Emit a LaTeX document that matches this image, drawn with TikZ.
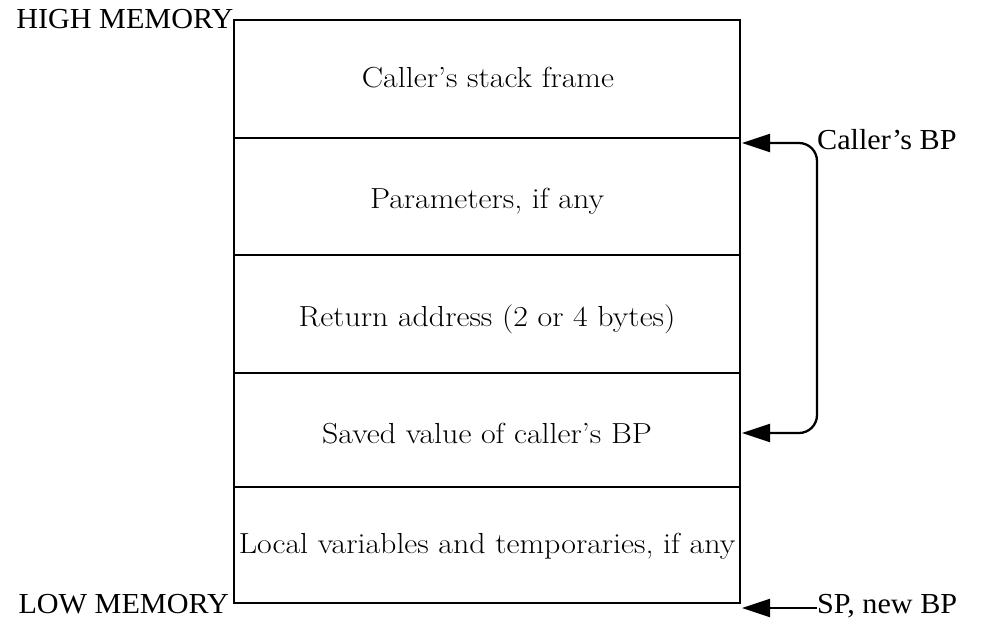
\documentclass[tikz,border=0pt]{standalone}
\usepackage{fontspec}
\newfontfamily\labelfont{Liberation Serif}
\usetikzlibrary{arrows.meta}

\begin{document}
\begin{tikzpicture}[x=1pt,y=-1pt,
  frame/.style={line width=1.9pt},
  pointer/.style={line width=2.3pt, -{Triangle[length=28pt,width=18pt]}},
  twoway/.style={line width=2.3pt, {Triangle[length=28pt,width=18pt]}-{Triangle[length=28pt,width=18pt]}, rounded corners=18pt},
  cell/.style={anchor=base, inner sep=0pt, font=\fontsize{29}{33}\selectfont},
  side/.style={inner sep=0pt, font=\labelfont\fontsize{29}{33}\selectfont}
]
\useasboundingbox (0,0) rectangle (982,627);

% stack frame column
\coordinate (tl) at (234,20);
\coordinate (br) at (740,603);
\draw[frame] (tl) rectangle (br);
\foreach \y in {138,255,373,487}
  \draw[frame] (234,\y) -- (740,\y);

% cell contents, set slightly wide
\newcommand{\wide}[1]{\scalebox{1.1}[1]{#1}}
\node[cell] (c1) at (488,87)  {\wide{Caller's stack frame}};
\node[cell] (c2) at (487,208) {\wide{Parameters, if any}};
\node[cell] (c3) at (487,326) {\wide{Return address (2 or 4 bytes)}};
\node[cell] (c4) at (487,443) {\wide{Saved value of caller's BP}};
\node[cell] (c5) at (487,553) {\wide{Local variables and temporaries, if any}};

% memory ends
\newcommand{\lwide}[1]{\scalebox{1.04}[1]{#1}}
\node[side, anchor=base east] (hi) at (233.5,28)  {\lwide{HIGH MEMORY}};
\node[side, anchor=base east] (lo) at (229,613) {\lwide{LOW MEMORY}};

% base pointer chain
\coordinate (bpa) at (742,143);
\coordinate (bpb) at (742,433);
\coordinate (bend) at (817,143);
\node[side, anchor=base west] (cbp) at (817,149) {\lwide{Caller’s BP}};
\draw[twoway] (bpa) -- (bend) |- (bpb);

% stack pointer
\node[side, anchor=base west] (sp) at (817,613) {\lwide{SP, new BP}};
\coordinate (spt) at (742,608);
\draw[pointer] (sp.west |- spt) -- (spt);
\end{tikzpicture}
\end{document}
